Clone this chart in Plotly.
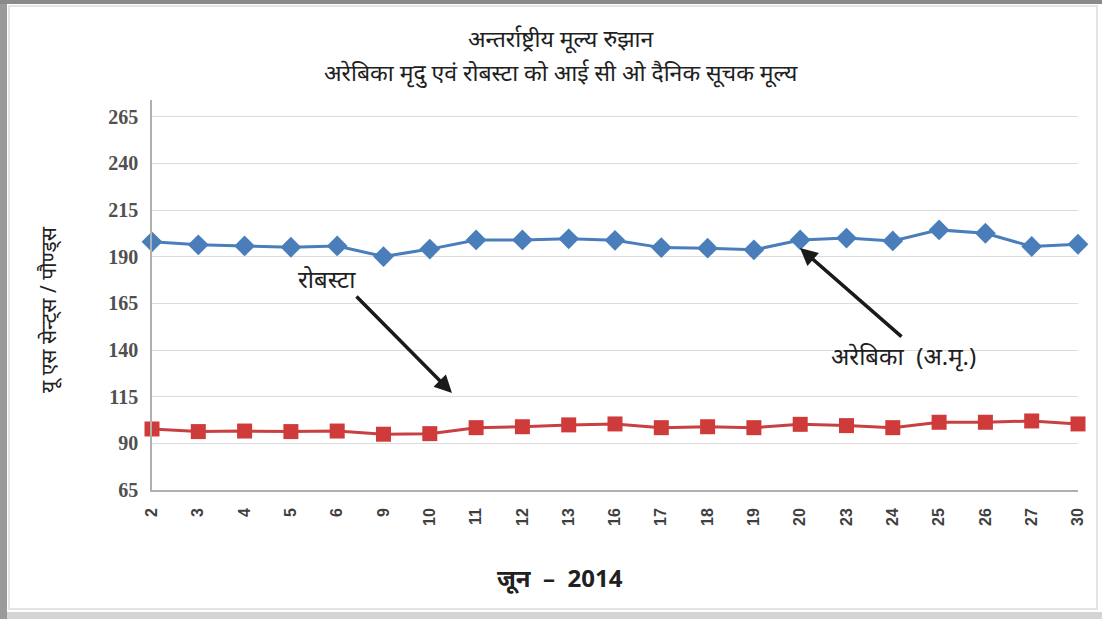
import plotly.graph_objects as go

dates = ["2", "3", "4", "5", "6", "9", "10", "11", "12", "13", "16", "17", "18",
         "19", "20", "23", "24", "25", "26", "27", "30"]
arabica = [198.0, 196.4, 195.8, 195.1, 195.8, 190.1, 194.1, 199.0, 199.0, 199.6,
           198.8, 194.9, 194.6, 193.7, 199.0, 200.0, 198.5, 204.4, 202.6, 195.5, 196.7]
robusta = [97.7, 96.3, 96.6, 96.3, 96.6, 94.9, 95.2, 98.4, 98.9, 99.9,
           100.4, 98.4, 98.9, 98.4, 100.2, 99.5, 98.4, 101.3, 101.3, 102.0, 100.4]
y_ticks = [65, 90, 115, 140, 165, 190, 215, 240, 265]

title_lines = ["अन्तर्राष्ट्रीय मूल्य रुझान",
               "अरेबिका मृदु एवं रोबस्टा को आई सी ओ दैनिक सूचक मूल्य"]
y_title = "यू एस सेन्ट्स / पौण्ड्स"
x_title = "जून  –  2014"
label_robusta = "रोबस्टा"
label_arabica = "अरेबिका  (अ.मृ.)"

W, H = 1102, 619
L, R, T, B = 152, 24, 100, 129
pw, ph = W - L - R, H - T - B

def px(x):
    return (x - L) / pw

def py(y):
    return (H - B - y) / ph

fig = go.Figure()
fig.add_trace(go.Scatter(
    x=list(range(len(dates))), y=arabica, mode="lines+markers",
    line=dict(color="#4a7ebb", width=3),
    marker=dict(symbol="diamond", size=16, color="#4a7ebb"),
    cliponaxis=False, showlegend=False))
fig.add_trace(go.Scatter(
    x=list(range(len(dates))), y=robusta, mode="lines+markers",
    line=dict(color="#c94040", width=3),
    marker=dict(symbol="square", size=15, color="#cf3a3a"),
    cliponaxis=False, showlegend=False))

fig.update_xaxes(
    tickmode="array", tickvals=list(range(len(dates))), ticktext=dates,
    range=[0, len(dates) - 1], tickangle=-90,
    tickfont=dict(family="Liberation Sans", size=16, color="#404040", weight="bold"),
    showgrid=False, showline=True, linecolor="#b0b0b0", linewidth=1.5,
    ticks="", zeroline=False, ticklabelstandoff=10)
fig.update_yaxes(
    range=[65, 65 + ph / 1.866], tickvals=y_ticks,
    tickfont=dict(family="Liberation Serif", size=20, color="#505050", weight="bold"),
    showgrid=True, gridcolor="#dcdcdc", gridwidth=1.2,
    showline=True, linecolor="#b0b0b0", linewidth=1.5, ticks="", zeroline=False,
    ticklabelstandoff=8)

step = pw / (len(dates) - 1)

def dx(p):
    return (p - L) / step

def dy(p):
    return 65 + (H - B - p) / 1.866

txt = dict(family="Noto Sans", size=24, color="#202020")
tfont = dict(family="Noto Sans", size=23, color="#202020")
anns = [
    dict(x=px(561), y=py(38), xref="paper", yref="paper", text=title_lines[0], showarrow=False,
         font=tfont, xanchor="center", yanchor="middle"),
    dict(x=px(561), y=py(72), xref="paper", yref="paper", text=title_lines[1], showarrow=False,
         font=tfont, xanchor="center", yanchor="middle"),
    dict(x=px(560), y=py(577), xref="paper", yref="paper", text=x_title, showarrow=False,
         font=dict(family="Noto Sans", size=24, color="#202020", weight="bold"),
         xanchor="center", yanchor="middle"),
    dict(x=px(48), y=py(310), xref="paper", yref="paper", text=y_title, showarrow=False,
         textangle=-90, font=dict(family="Noto Sans", size=21, color="#202020"),
         xanchor="center", yanchor="middle"),
    dict(x=dx(327), y=dy(278), text=label_robusta, showarrow=False, font=txt),
    dict(x=dx(903), y=dy(355), text=label_arabica, showarrow=False, font=txt),
    dict(x=dx(452), y=dy(393), ax=dx(355), ay=dy(295), axref="x", ayref="y",
         xref="x", yref="y", text="", showarrow=True, arrowhead=2, arrowsize=1,
         arrowwidth=3.5, arrowcolor="#1a1a1a"),
    dict(x=dx(800), y=dy(248), ax=dx(903), ay=dy(338), axref="x", ayref="y",
         xref="x", yref="y", text="", showarrow=True, arrowhead=2, arrowsize=1,
         arrowwidth=3.5, arrowcolor="#1a1a1a"),
]

shapes = [
    dict(type="rect", xref="paper", yref="paper", x0=px(0), x1=px(7), y0=py(H), y1=py(0),
         fillcolor="#9a9a9a", line=dict(width=0), layer="below"),
    dict(type="rect", xref="paper", yref="paper", x0=px(0), x1=px(W), y0=py(4), y1=py(0),
         fillcolor="#8a8a8a", line=dict(width=0), layer="below"),
    dict(type="rect", xref="paper", yref="paper", x0=px(7), x1=px(W), y0=py(H), y1=py(612),
         fillcolor="#d4d4d4", line=dict(width=0), layer="below"),
    dict(type="rect", xref="paper", yref="paper", x0=px(9), x1=px(1097), y0=py(609), y1=py(6),
         fillcolor="rgba(0,0,0,0)", line=dict(color="#e4e4e4", width=2), layer="below"),
]

fig.update_layout(
    width=W, height=H, margin=dict(l=L, r=R, t=T, b=B),
    paper_bgcolor="white", plot_bgcolor="white",
    annotations=anns, shapes=shapes,
)

fig.write_html("out.html", config={"displayModeBar": False},
               post_script="document.body.style.margin='0';document.body.style.overflow='hidden';")
